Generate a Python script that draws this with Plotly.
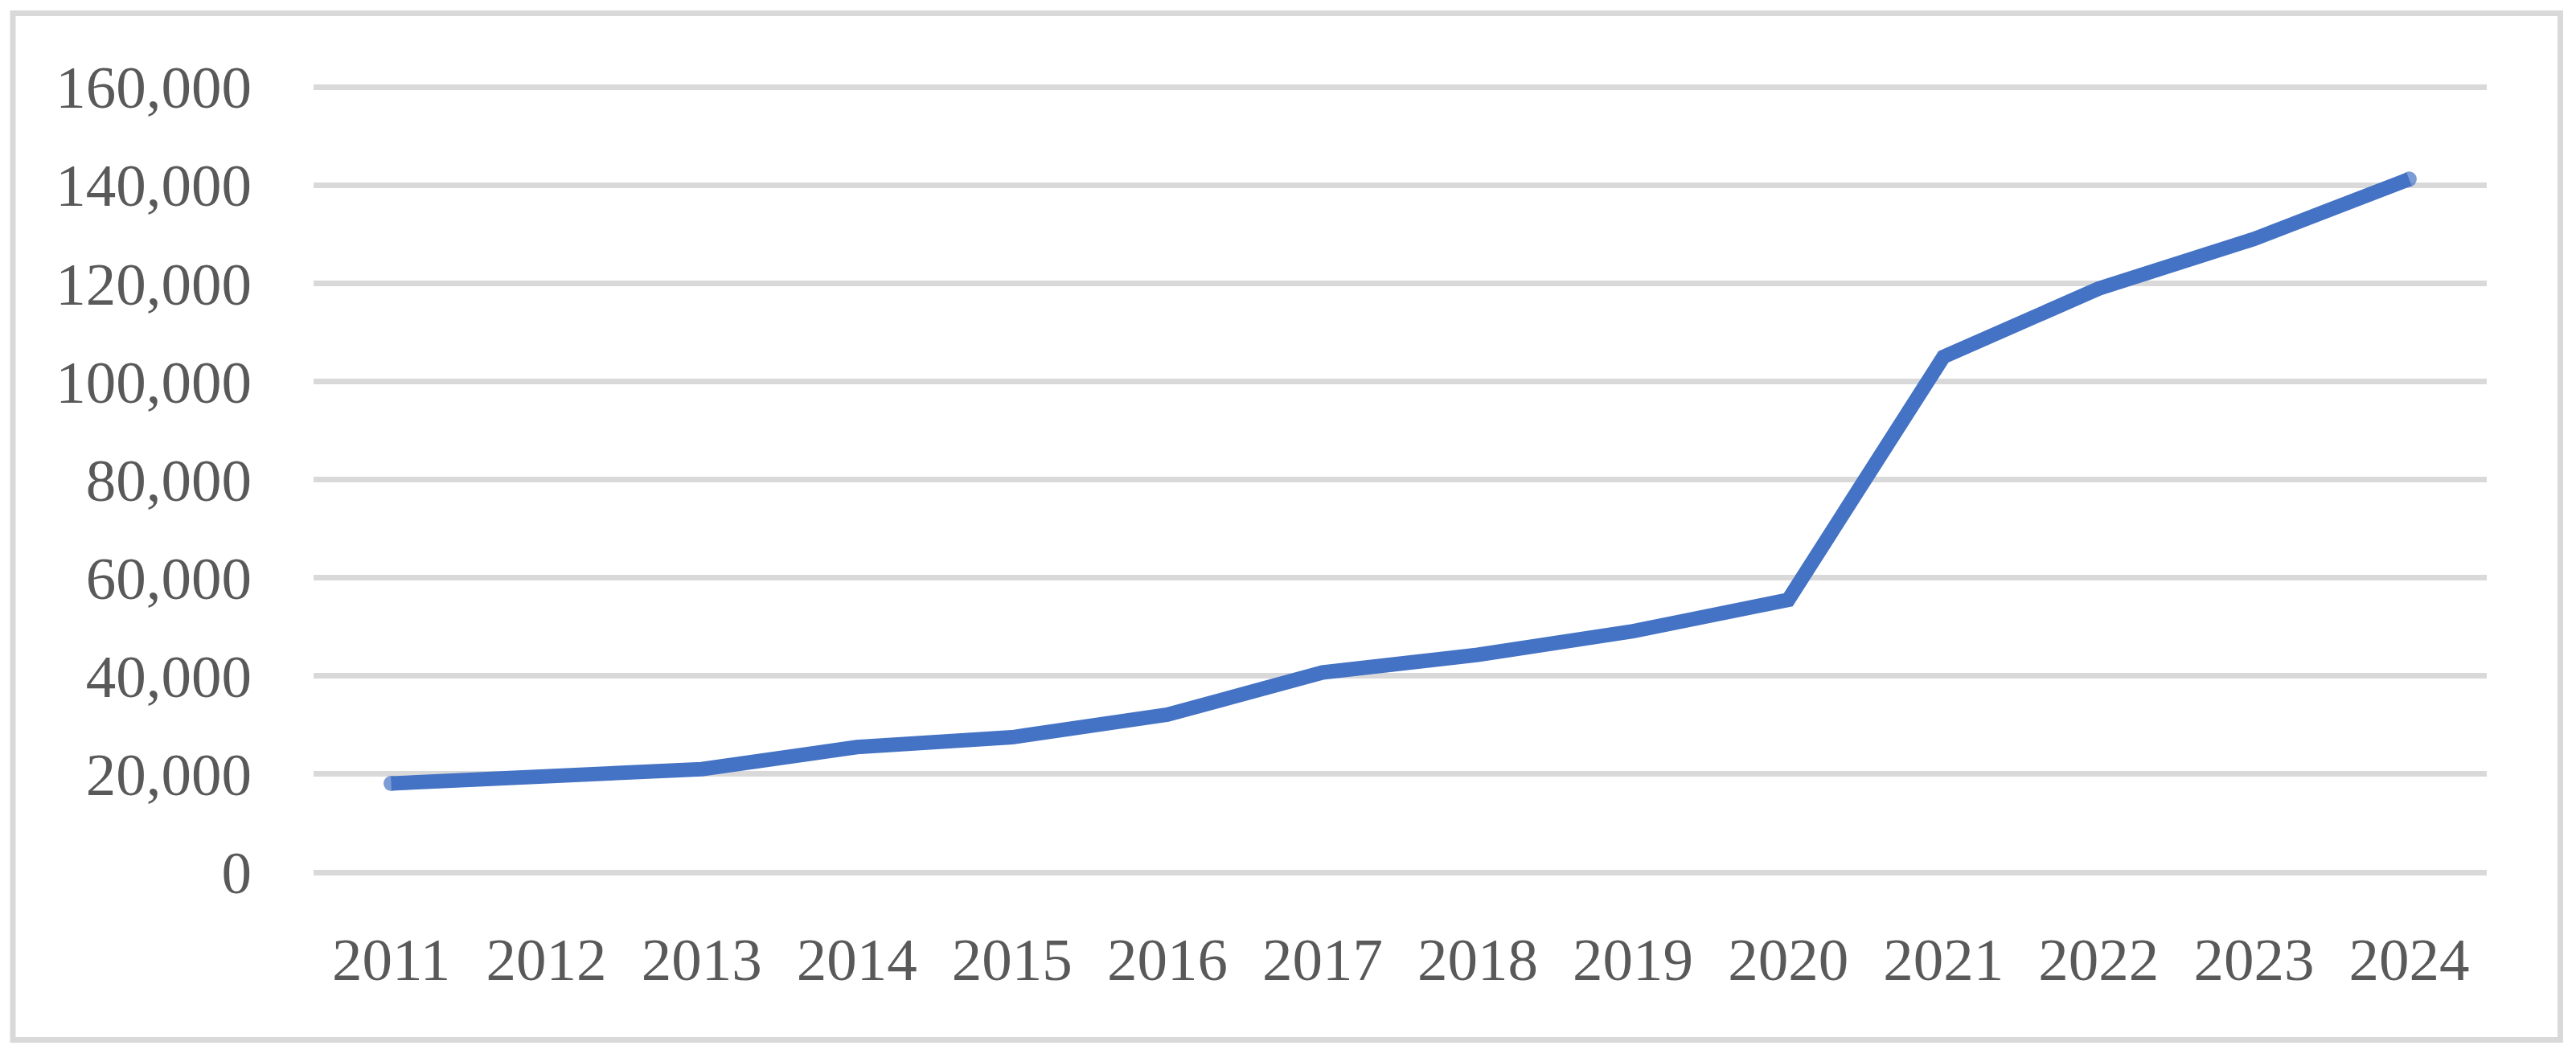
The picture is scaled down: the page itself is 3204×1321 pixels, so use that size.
import plotly.graph_objects as go

years = ["2011", "2012", "2013", "2014", "2015", "2016", "2017",
         "2018", "2019", "2020", "2021", "2022", "2023", "2024"]
values = [18100, 19200, 21000, 25500, 27500, 32100, 40700,
          44300, 49100, 55500, 105000, 118900, 129000, 141200]
y_ticks = [0, 20000, 40000, 60000, 80000, 100000, 120000, 140000, 160000]
y_tick_labels = ["0", "20,000", "40,000", "60,000", "80,000", "100,000",
                 "120,000", "140,000", "160,000"]

W, H = 3204, 1321
PAD = 5  # px of extra room so edge gridlines are not dropped
ML, MR, MT, MB = 390, 111, 108 - PAD, 236 - PAD
Y_MAX = 160000
LINE_COLOR = "#4472C4"
LINE_W = 18
TEXT_COLOR = "#595959"
GRID_COLOR = "#D9D9D9"
FONT = "Liberation Serif"

pw = W - ML - MR
ph = H - MT - MB
pad_val = PAD / (ph - 2 * PAD) * Y_MAX

# round end caps: marker only on first and last point
cap_sizes = [LINE_W + 1 if i in (0, len(values) - 1) else 0 for i in range(len(values))]

fig = go.Figure()
fig.add_trace(go.Scatter(
    x=years, y=values, mode="lines+markers",
    line=dict(color=LINE_COLOR, width=LINE_W),
    marker=dict(size=cap_sizes, color=LINE_COLOR, line=dict(width=0)),
    showlegend=False, hoverinfo="x+y",
))

def px_x(p):
    return (p - ML) / pw
def px_y(p):
    return (H - MB - p) / ph

fig.add_shape(type="rect", xref="paper", yref="paper",
              x0=px_x(16), x1=px_x(3184.5), y0=px_y(1293.5), y1=px_y(16.5),
              line=dict(color=GRID_COLOR, width=7), fillcolor="rgba(0,0,0,0)",
              layer="below")

fig.update_layout(
    width=W, height=H,
    margin=dict(l=ML, r=MR, t=MT, b=MB, pad=0),
    paper_bgcolor="white", plot_bgcolor="white",
    font=dict(family=FONT, size=75, color=TEXT_COLOR),
    xaxis=dict(
        type="category", range=[-0.5, len(years) - 0.5],
        showgrid=False, zeroline=False, showline=False,
        ticks="", ticklabelstandoff=58 - PAD,
        tickfont=dict(family=FONT, size=75, color=TEXT_COLOR),
        fixedrange=True,
    ),
    yaxis=dict(
        range=[-pad_val, Y_MAX + pad_val], tickmode="array",
        tickvals=y_ticks, ticktext=y_tick_labels,
        showgrid=True, gridcolor=GRID_COLOR, gridwidth=7,
        zeroline=True, zerolinecolor=GRID_COLOR, zerolinewidth=7,
        showline=False, ticks="", ticklabelstandoff=76,
        tickfont=dict(family=FONT, size=75, color=TEXT_COLOR),
        fixedrange=True,
    ),
)

fig.write_html("out.html")
